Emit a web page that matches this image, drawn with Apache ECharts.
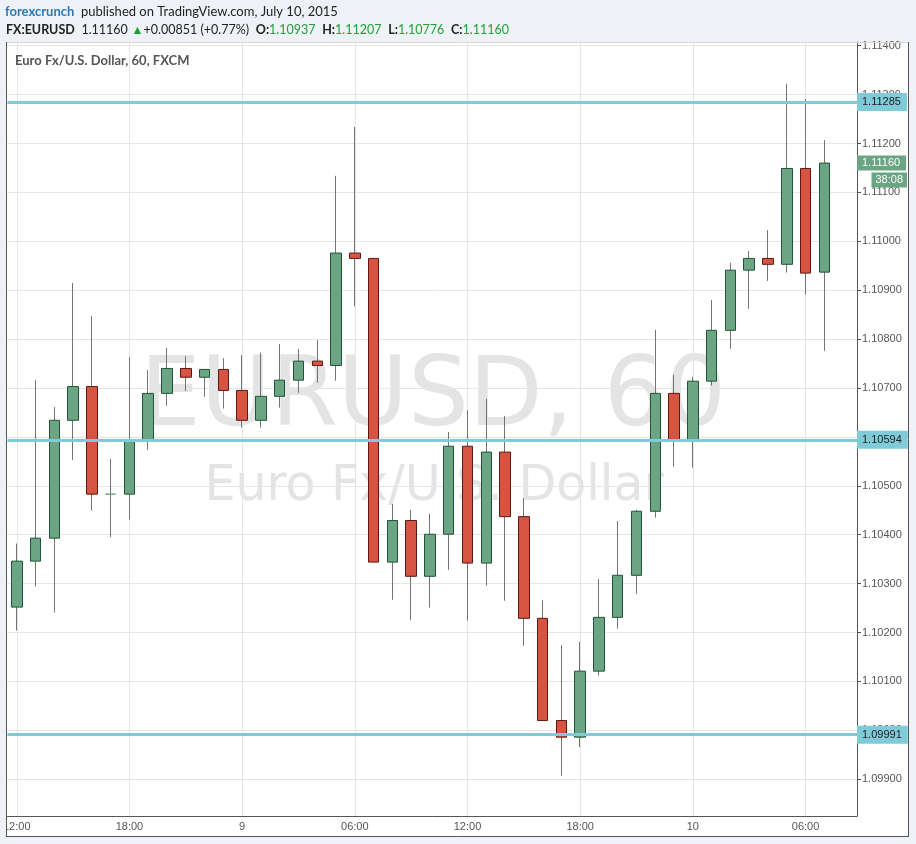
<!DOCTYPE html>
<html>
<head>
<meta charset="utf-8">
<script src="https://cdn.jsdelivr.net/npm/echarts@6/dist/echarts.min.js"></script>
<style>html,body{margin:0;padding:0;background:#eef2f6;}#c{width:916px;height:844px;}</style>
</head>
<body>
<div id="c"></div>
<script>
// ---- data (EUR/USD, 60 min, FXCM) ----
const categories = [
  '07-08 12:00','07-08 13:00','07-08 14:00','07-08 15:00','07-08 16:00','07-08 17:00',
  '07-08 18:00','07-08 19:00','07-08 20:00','07-08 21:00','07-08 22:00','07-08 23:00',
  '07-09 00:00','07-09 01:00','07-09 02:00','07-09 03:00','07-09 04:00','07-09 05:00',
  '07-09 06:00','07-09 07:00','07-09 08:00','07-09 09:00','07-09 10:00','07-09 11:00',
  '07-09 12:00','07-09 13:00','07-09 14:00','07-09 15:00','07-09 16:00','07-09 17:00',
  '07-09 18:00','07-09 19:00','07-09 20:00','07-09 21:00','07-09 22:00','07-09 23:00',
  '07-10 00:00','07-10 01:00','07-10 02:00','07-10 03:00','07-10 04:00','07-10 05:00',
  '07-10 06:00','07-10 07:00'
];
const opens = [1.10252,1.10346,1.10393,1.10634,1.10703,1.10483,1.10483,1.10593,1.10689,1.10740,1.10722,1.10738,
  1.10695,1.10634,1.10683,1.10716,1.10755,1.10746,1.10976,1.10965,1.10344,1.10429,1.10315,1.10401,
  1.10581,1.10342,1.10569,1.10437,1.10229,1.10020,1.09986,1.10121,1.10231,1.10317,1.10448,1.10689,
  1.10593,1.10714,1.10818,1.10941,1.10965,1.10953,1.11149,1.10937];
const closes = [1.10346,1.10393,1.10634,1.10703,1.10483,1.10483,1.10593,1.10689,1.10740,1.10722,1.10738,1.10695,
  1.10634,1.10683,1.10716,1.10755,1.10746,1.10976,1.10965,1.10344,1.10429,1.10315,1.10401,1.10581,
  1.10342,1.10569,1.10437,1.10229,1.10020,1.09986,1.10121,1.10231,1.10317,1.10448,1.10689,1.10593,
  1.10714,1.10818,1.10941,1.10965,1.10953,1.11149,1.10935,1.11160];
const highs = [1.10382,1.10716,1.10661,1.10915,1.10847,1.10555,1.10763,1.10737,1.10782,1.10765,1.10738,1.10761,
  1.10767,1.10772,1.10790,1.10780,1.10798,1.11134,1.11234,1.10965,1.10463,1.10451,1.10443,1.10610,
  1.10655,1.10678,1.10643,1.10475,1.10266,1.10174,1.10181,1.10309,1.10428,1.10451,1.10819,1.10727,
  1.10723,1.10880,1.10956,1.10980,1.11023,1.11322,1.11291,1.11207];
const lows = [1.10204,1.10294,1.10241,1.10553,1.10449,1.10395,1.10431,1.10574,1.10664,1.10694,1.10682,1.10658,
  1.10619,1.10619,1.10660,1.10690,1.10711,1.10715,1.10867,1.10344,1.10267,1.10226,1.10251,1.10328,
  1.10224,1.10296,1.10265,1.10173,1.10020,1.09907,1.09966,1.10112,1.10208,1.10279,1.10435,1.10539,
  1.10537,1.10705,1.10780,1.10862,1.10919,1.10936,1.10891,1.10776];
const levels = [1.11285, 1.10594, 1.09991];
const yTicks = [1.099,1.100,1.101,1.102,1.103,1.104,1.105,1.106,1.107,1.108,1.109,1.110,1.111,1.112,1.113,1.114];
const xTickLabels = ['12:00','18:00','9','06:00','12:00','18:00','10','06:00'];
const dayChange = '+0.00851 (+0.77%)';
const timer = '38:08';

// ---- build ----
const BG = '#eef2f6';
const xTickIdx = [];
categories.forEach((c, i) => { if (parseInt(c.slice(6, 8), 10) % 6 === 0) xTickIdx.push(i); });
const xLabelMap = {};
xTickIdx.forEach((v, k) => { xLabelMap[v] = xTickLabels[k]; });
const idx = categories.map((_, i) => i);
const wickData = idx.map(i => [i, opens[i], closes[i], lows[i], highs[i]]);
const bodyData = idx.map(i => [i, opens[i], closes[i], Math.min(opens[i], closes[i]), Math.max(opens[i], closes[i])]);
const last = categories.length - 1;
const f5 = v => v.toFixed(5);

const chart = echarts.init(document.getElementById('c'), null, {renderer: 'canvas', width: 916, height: 844});
const axisFont = 'Liberation Sans';
chart.setOption({
  animation: false,
  backgroundColor: BG,
  grid: {left: 6, right: 59, top: 42, bottom: 28, containLabel: false},
  xAxis: {
    type: 'value', min: -0.494, max: 44.74,
    axisLine: {show: true, onZero: false, lineStyle: {color: '#555', width: 1}},
    axisTick: {show: false, customValues: xTickIdx},
    axisLabel: {customValues: xTickIdx, formatter: v => xLabelMap[Math.round(v)] || '', color: '#555',
      fontSize: 11, fontFamily: axisFont, margin: 5, showMinLabel: true, showMaxLabel: true, hideOverlap: false},
    splitLine: {show: true, lineStyle: {color: '#e6e6e6', width: 1}}
  },
  yAxis: {
    type: 'value', position: 'right', min: 1.098248, max: 1.114076, scale: true,
    axisLine: {show: true, onZero: false, lineStyle: {color: '#555', width: 1}},
    axisTick: {show: true, inside: false, length: 4, customValues: yTicks, lineStyle: {color: '#555'}},
    axisLabel: {customValues: yTicks, formatter: v => f5(v), color: '#555', fontSize: 11, fontFamily: axisFont,
      margin: 5, showMinLabel: true, showMaxLabel: true, hideOverlap: false},
    splitLine: {show: true, lineStyle: {color: '#e6e6e6', width: 1}}
  },
  series: [
    {
      type: 'candlestick', name: 'wick', data: wickData, encode: {x: 0, y: [1, 2, 3, 4]},
      barWidth: 0, silent: true, z: 2,
      itemStyle: {color: '#737375', color0: '#737375', borderColor: '#737375', borderColor0: '#737375',
        borderColorDoji: '#737375', borderWidth: 1}
    },
    {
      type: 'candlestick', name: 'EURUSD', data: bodyData, encode: {x: 0, y: [1, 2, 3, 4]},
      barWidth: 11, silent: true, z: 3,
      itemStyle: {color: '#6ba583', color0: '#d75442', borderColor: '#225437', borderColor0: '#5b1a13',
        borderColorDoji: '#6ba583', borderWidth: 1},
      markLine: {
        silent: true, symbol: ['none', 'none'], animation: false, precision: 5,
        lineStyle: {color: '#7fcbd9', width: 3, type: 'solid'},
        label: {show: true, position: 'end', distance: 0, formatter: p => f5(p.value),
          backgroundColor: '#7fcbd9', color: '#1e1e1e', padding: [4, 6, 3, 5], fontSize: 11,
          fontFamily: axisFont, lineHeight: 11},
        emphasis: {disabled: true},
        data: levels.map(v => ({yAxis: v}))
      }
    }
  ]
});

const yLast = chart.convertToPixel({yAxisIndex: 0}, closes[last]);
const hdr = 'Lato';
const gr = [
  // chart frame (white panel)
  {type: 'rect', z: -10, shape: {x: 6, y: 42, width: 903, height: 795}, style: {fill: '#fff'}},
  {type: 'line', z: 40, shape: {x1: 6, y1: 42.5, x2: 909, y2: 42.5}, style: {stroke: '#d8d8d8', lineWidth: 1}},
  {type: 'line', z: 40, shape: {x1: 6, y1: 836.5, x2: 909, y2: 836.5}, style: {stroke: '#555', lineWidth: 1}},
  {type: 'line', z: 40, shape: {x1: 908.5, y1: 42, x2: 908.5, y2: 837}, style: {stroke: '#555', lineWidth: 1}},
  // clip the leftmost axis label at the frame edge
  {type: 'rect', z: 45, shape: {x: 0, y: 817, width: 6, height: 19}, style: {fill: BG}},
  {type: 'line', z: 46, shape: {x1: 6.5, y1: 42, x2: 6.5, y2: 837}, style: {stroke: '#555', lineWidth: 1}},
  // watermark
  {type: 'text', z: -5, x: 433, y: 400, style: {text: 'EURUSD, 60', font: '96px "DejaVu Sans"', fill: '#e4e4e4',
    align: 'center', verticalAlign: 'middle'}},
  {type: 'text', z: -5, x: 434, y: 487, style: {text: 'Euro Fx/U.S. Dollar', font: '49px "DejaVu Sans"', fill: '#e4e4e4',
    align: 'center', verticalAlign: 'middle'}},
  // pane title
  {type: 'text', z: 40, x: 15, y: 61, style: {text: 'Euro Fx/U.S. Dollar, 60, FXCM', font: 'bold 13px ' + hdr,
    fill: '#555', verticalAlign: 'middle'}},
  // header lines
  {type: 'text', z: 40, x: 5, y: 12, style: {
    text: '{b|forexcrunch}  {n|published on TradingView.com, July 10, 2015}', verticalAlign: 'middle',
    rich: {b: {font: 'bold 13px ' + hdr, fill: '#2a7ab8'}, n: {font: '13px ' + hdr, fill: '#222'}}}},
  {type: 'text', z: 40, x: 6, y: 30, style: {
    text: '{k|FX:EURUSD}  {n|' + f5(closes[last]) + '} {g|▲}{n|' + dayChange + '}  {k|O:}{g|' + f5(opens[last]) +
      '}  {k|H:}{g|' + f5(highs[last]) + '}  {k|L:}{g|' + f5(lows[last]) + '}  {k|C:}{g|' + f5(closes[last]) + '}',
    verticalAlign: 'middle',
    rich: {k: {font: 'bold 12.5px ' + hdr, fill: '#222'}, n: {font: '12.5px ' + hdr, fill: '#222'},
      g: {font: '12.5px ' + hdr, fill: '#21a038'}}}},
  // last price & countdown labels on the price scale
  {type: 'text', z: 60, x: 857, y: yLast, style: {text: f5(closes[last]), font: '11px ' + axisFont, fill: '#fff',
    backgroundColor: '#6ba583', padding: [2, 6, 2, 5], verticalAlign: 'middle', align: 'left'}},
  {type: 'text', z: 60, x: 907, y: yLast + 17, style: {text: timer, font: '11px ' + axisFont, fill: '#fff',
    backgroundColor: '#6ba583', padding: [2, 4, 2, 4], verticalAlign: 'middle', align: 'right'}}
];
chart.setOption({graphic: {elements: gr}});
</script>
</body>
</html>
